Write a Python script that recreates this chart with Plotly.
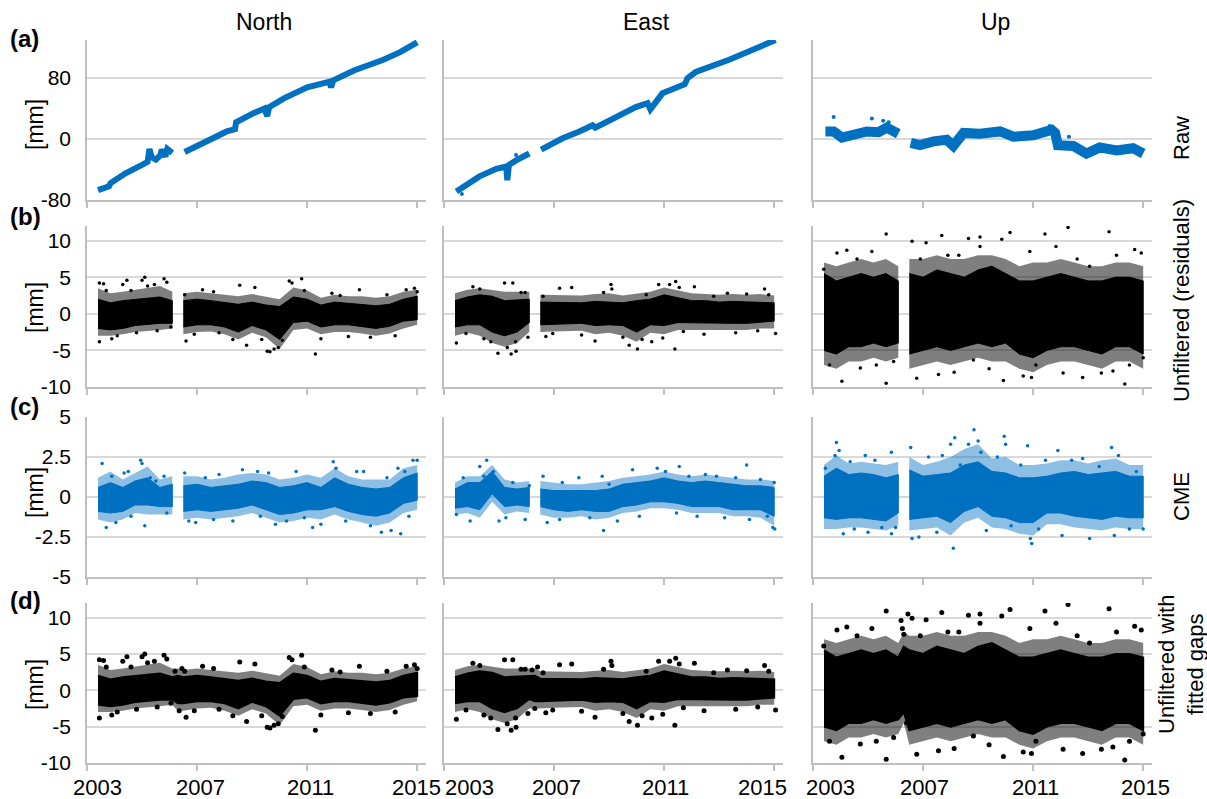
import plotly.graph_objects as go

# ---------------- data ----------------
# knot times of the residual bands (two observation segments, gap 2006.1-2006.5)
T1 = [2003.4, 2003.85, 2004.3, 2004.75, 2005.2, 2005.65, 2006.1]
T2 = [2006.5, 2007.0, 2007.5, 2008.0, 2008.5, 2009.0, 2009.5, 2010.0, 2010.5,
      2011.0, 2011.5, 2012.0, 2012.5, 2013.0, 2013.5, 2014.0, 2014.5, 2015.0]
T_GAP = [2006.3]

# (a) raw series  [mm]
RAW_N_T1 = [2003.4, 2003.8, 2003.85, 2004.4, 2005.0, 2005.2, 2005.27, 2005.35, 2005.5, 2005.65, 2005.72, 2005.85, 2005.92, 2006.1]
RAW_N_V1 = [-67, -62, -58, -45, -34, -30, -13, -24, -27, -22, -14, -23, -13, -18]
RAW_N_T2 = [2006.55, 2007.35, 2008.08, 2008.38, 2008.42, 2009.05, 2009.45, 2009.55, 2009.62, 2010.14, 2011.0, 2011.8, 2011.87, 2011.95, 2012.7, 2013.77, 2014.38, 2015.0]
RAW_N_V2 = [-17, -3, 10, 13, 22, 34, 40, 30, 42, 53, 68, 75, 68, 77, 90, 104, 114, 127]

RAW_E_T1 = [2003.45, 2004.29, 2004.9, 2005.26, 2005.3, 2005.36, 2005.62, 2005.86, 2006.1]
RAW_E_V1 = [-69, -49, -39, -36, -54, -34, -28, -23, -19]
RAW_E_T2 = [2006.53, 2007.31, 2007.92, 2008.4, 2008.5, 2009.13, 2009.97, 2010.4, 2010.5, 2010.94, 2011.6, 2011.75, 2011.85, 2012.15, 2013.36, 2015.05]
RAW_E_V2 = [-14, 1, 10, 18, 15, 27, 42, 47, 39, 60, 71, 72, 80, 88, 104, 130]
RAW_E_OUT = [(2003.65, -72), (2005.62, -21)]

RAW_U_T1 = [2003.45, 2003.75, 2004.05, 2004.47, 2004.96, 2005.38, 2005.68, 2006.1]
RAW_U_V1 = [10, 10, 2, 7, 10, 9, 15, 7]
RAW_U_T2 = [2006.55, 2006.89, 2007.38, 2007.86, 2008.1, 2008.47, 2009.07, 2009.8, 2010.28, 2011.0, 2011.67, 2011.8, 2011.9, 2012.46, 2012.94, 2013.42, 2014.03, 2014.63, 2015.0]
RAW_U_V2 = [-5, -8, -3, -1, -9, 8, 7, 10, 3, 5, 12, 8, -8, -9, -19, -11, -15, -12, -19]
RAW_U_OUT = [(2003.75, 29), (2005.14, 27), (2005.55, 24), (2005.75, 22), (2011.6, 17), (2012.3, 3)]

# (b) unfiltered residuals: dense core band, sparser outer band, scattered points  [mm]
RES_N_LO1 = [-2.0, -2.2, -2.0, -1.6, -1.4, -1.3, -1.3]
RES_N_HI1 = [2.0, 1.5, 1.8, 2.0, 2.2, 2.3, 1.8]
RES_N_LO2 = [-1.8, -1.5, -1.5, -1.8, -2.5, -1.6, -2.2, -3.5, -1.2, -1.0, -1.8, -1.5, -1.5, -1.7, -2.0, -1.7, -1.0, -0.8]
RES_N_HI2 = [1.8, 2.0, 1.8, 1.6, 1.3, 1.6, 1.2, 1.0, 2.3, 2.0, 1.2, 1.6, 1.4, 1.3, 1.1, 1.3, 2.0, 2.4]
RES_N_OLO1 = [-3.0, -3.0, -2.8, -2.5, -2.3, -2.2, -2.0]
RES_N_OHI1 = [3.5, 2.8, 3.0, 3.3, 3.6, 3.8, 3.0]
RES_N_OLO2 = [-2.8, -2.5, -2.4, -2.8, -3.5, -2.6, -3.2, -4.8, -2.2, -2.0, -2.8, -2.5, -2.5, -2.7, -3.0, -2.7, -2.0, -1.5]
RES_N_OHI2 = [2.8, 3.0, 2.8, 2.6, 2.4, 2.7, 2.3, 2.0, 3.6, 3.2, 2.2, 2.6, 2.4, 2.4, 2.2, 2.4, 3.0, 3.3]
RES_N_OUT = [(2003.45, -3.8), (2003.45, 4.2), (2003.6, 4.1), (2003.7, 3.2), (2003.9, -3.4), (2004.1, -3.0),
             (2004.3, 4.0), (2004.45, 4.6), (2004.6, 3.2), (2004.8, -2.6), (2005.0, 4.6), (2005.1, 5.0),
             (2005.2, 3.8), (2005.45, 4.0), (2005.55, -2.3), (2005.8, 4.8), (2005.9, 4.3), (2006.05, -1.8),
             (2006.55, 2.6), (2006.6, -3.7), (2006.9, -2.8), (2007.2, 3.3), (2007.6, 3.0), (2007.8, -2.6),
             (2008.3, -3.5), (2008.55, 3.9), (2008.8, -4.3), (2009.1, 3.6), (2009.35, -3.5), (2009.55, -5.1),
             (2009.65, -5.2), (2009.8, -4.8), (2009.95, -4.6), (2010.1, -3.6), (2010.35, 4.5), (2010.45, 4.2),
             (2010.8, 4.8), (2010.9, 3.2), (2011.3, -5.5), (2011.5, -3.4), (2011.9, 2.8), (2012.2, 2.5),
             (2012.5, -3.1), (2012.9, 3.3), (2013.3, -3.2), (2013.9, 2.6), (2014.2, -3.0), (2014.6, 3.3),
             (2014.9, 3.5), (2015.0, 3.0)]

RES_E_LO1 = [-1.8, -1.5, -1.5, -2.5, -3.0, -2.5, -1.2]
RES_E_HI1 = [1.8, 2.3, 2.6, 2.4, 1.8, 1.9, 2.0]
RES_E_LO2 = [-1.5, -1.5, -1.4, -1.3, -1.6, -1.5, -1.6, -2.5, -1.5, -1.6, -1.2, -1.3, -1.3, -1.3, -1.3, -1.3, -1.2, -1.0]
RES_E_HI2 = [1.6, 1.6, 1.5, 1.5, 1.7, 1.6, 1.5, 1.8, 2.0, 2.6, 2.2, 1.8, 1.8, 1.6, 1.7, 1.6, 1.6, 1.5]
RES_E_OLO1 = [-3.0, -2.6, -3.0, -4.0, -4.5, -4.0, -2.5]
RES_E_OHI1 = [2.8, 3.3, 3.5, 3.3, 3.0, 3.0, 3.0]
RES_E_OLO2 = [-2.5, -2.4, -2.3, -2.3, -2.8, -2.6, -3.0, -3.8, -2.6, -2.8, -2.2, -2.2, -2.2, -2.2, -2.2, -2.2, -2.0, -2.0]
RES_E_OHI2 = [2.6, 2.6, 2.5, 2.5, 2.7, 2.8, 2.5, 2.8, 3.0, 3.6, 3.2, 2.8, 2.7, 2.6, 2.7, 2.6, 2.7, 2.5]
RES_E_OUT = [(2003.45, -4.0), (2003.8, -2.7), (2004.05, 3.7), (2004.3, 3.4), (2004.45, -3.4), (2004.7, -3.8),
             (2004.96, -5.4), (2005.2, 4.2), (2005.3, -4.6), (2005.44, -5.5), (2005.62, -5.1), (2005.6, -3.8),
             (2005.5, 4.2), (2005.8, 2.9), (2005.95, 2.9), (2006.05, -3.2), (2006.6, 2.4), (2006.7, -3.1),
             (2006.95, -2.7), (2007.2, 3.5), (2007.64, 3.6), (2008.0, -2.9), (2008.49, -3.7), (2008.8, 2.9),
             (2009.07, 4.0), (2009.1, 3.4), (2009.5, -3.2), (2009.73, -4.3), (2010.03, -4.8), (2010.2, -3.5),
             (2010.35, 2.6), (2010.55, -3.8), (2010.8, 4.0), (2010.95, -3.3), (2011.2, 4.0), (2011.42, 4.4),
             (2011.39, -4.8), (2011.55, 3.6), (2011.7, -2.4), (2012.1, 3.7), (2012.45, -2.8), (2012.8, 2.4),
             (2013.3, 2.8), (2013.6, -2.6), (2014.0, 2.7), (2014.4, -2.3), (2014.65, 3.4), (2014.8, 2.6),
             (2015.05, -2.7)]

RES_U_LO1 = [-5.0, -5.5, -4.5, -4.5, -4.0, -4.5, -4.0]
RES_U_HI1 = [5.5, 4.5, 5.0, 5.5, 5.0, 5.5, 4.5]
RES_U_LO2 = [-5.5, -5.0, -4.5, -5.0, -4.5, -4.0, -4.5, -4.0, -5.5, -6.0, -5.0, -4.5, -4.5, -5.0, -5.5, -4.5, -4.5, -5.5]
RES_U_HI2 = [5.5, 5.0, 6.0, 5.5, 5.0, 6.0, 6.5, 5.5, 4.5, 4.5, 5.0, 5.5, 5.0, 4.5, 4.5, 5.0, 5.0, 4.5]
RES_U_OLO1 = [-7.0, -7.5, -6.5, -6.5, -6.0, -6.5, -6.0]
RES_U_OHI1 = [7.0, 6.5, 7.0, 7.5, 7.0, 7.5, 6.5]
RES_U_OLO2 = [-7.5, -7.0, -6.5, -7.0, -6.5, -6.0, -6.5, -6.5, -7.5, -8.0, -7.0, -6.5, -6.5, -7.0, -7.5, -6.5, -6.5, -7.5]
RES_U_OHI2 = [7.5, 7.5, 8.0, 7.5, 7.5, 8.0, 8.0, 7.5, 6.5, 7.0, 7.0, 7.5, 7.0, 6.5, 6.5, 7.0, 7.0, 6.5]
RES_U_OUT = [(2003.39, 6.1), (2003.87, 8.3), (2004.23, 8.7), (2005.14, 8.5), (2005.66, 10.9), (2004.05, -9.2),
             (2004.72, -7.4), (2005.66, -9.5), (2005.93, -6.5), (2006.6, 9.9), (2007.11, 9.7), (2007.68, 10.7),
             (2006.77, -8.8), (2007.56, -8.3), (2008.13, -8.0), (2008.65, 10.3), (2009.07, 10.5), (2009.07, 9.2),
             (2008.83, -6.3), (2009.92, -9.1), (2009.86, 10.2), (2010.16, 11.1), (2010.88, 8.5), (2010.64, -8.5),
             (2010.94, -8.7), (2011.43, 10.9), (2011.83, 9.2), (2012.09, -8.1), (2012.27, 11.8), (2012.8, -8.7),
             (2013.48, -8.1), (2013.76, 11.2), (2014.33, -9.6), (2014.69, 8.8), (2014.93, 8.3), (2015.0, -6.0),
             (2014.03, 8.0), (2013.05, 6.5), (2004.6, 7.5), (2003.6, -7.0), (2006.9, 7.5), (2008.3, 8.0),
             (2009.4, -7.5), (2011.1, -7.0), (2012.6, 7.5), (2013.9, -7.8), (2014.5, -7.0), (2007.9, 8.0),
             (2005.3, -7.0)]

# (d) fitted values inside the gap
GAP_N_LO, GAP_N_HI, GAP_N_OLO, GAP_N_OHI = [-1.8], [2.0], [-2.8], [3.0]
GAP_E_LO, GAP_E_HI, GAP_E_OLO, GAP_E_OHI = [-1.5], [2.0], [-2.5], [3.0]
GAP_U_LO, GAP_U_HI, GAP_U_OLO, GAP_U_OHI = [-3.0], [6.0], [-4.5], [8.0]
GAP_N_OUT = [(2006.2, 2.6), (2006.35, -2.8), (2006.45, 3.0)]
GAP_E_OUT = [(2006.2, 2.8), (2006.3, -2.5), (2006.4, 3.2)]
GAP_U_OUT = [(2006.2, 9.6), (2006.25, 8.5), (2006.3, 7.7), (2006.4, -4.5), (2006.45, 10.5)]

# (c) common mode error  [mm]
CME_N_LO1 = [-0.9, -1.0, -0.9, -0.5, -0.5, -0.6, -0.6]
CME_N_HI1 = [0.6, 0.9, 0.6, 1.0, 1.2, 0.6, 0.8]
CME_N_LO2 = [-0.9, -0.8, -0.9, -0.8, -0.7, -0.5, -0.8, -1.1, -1.0, -0.8, -0.8, -0.6, -0.9, -1.1, -1.2, -1.0, -0.4, -0.2]
CME_N_HI2 = [0.7, 0.8, 0.6, 0.7, 0.8, 1.0, 0.9, 0.6, 0.7, 0.9, 0.6, 1.2, 0.8, 0.6, 0.5, 0.6, 1.2, 1.5]
CME_N_OLO1 = [-1.4, -1.6, -1.4, -1.0, -1.1, -1.1, -1.1]
CME_N_OHI1 = [1.2, 1.6, 1.1, 1.5, 1.9, 1.1, 1.3]
CME_N_OLO2 = [-1.4, -1.3, -1.4, -1.3, -1.2, -1.0, -1.3, -1.6, -1.5, -1.3, -1.4, -1.1, -1.4, -1.6, -1.8, -1.6, -1.0, -0.8]
CME_N_OHI2 = [1.3, 1.3, 1.1, 1.2, 1.4, 1.5, 1.4, 1.1, 1.2, 1.4, 1.2, 1.8, 1.3, 1.1, 1.1, 1.1, 1.8, 2.0]
CME_N_OUT = [(2003.55, 2.1), (2003.7, -1.9), (2003.9, 1.3), (2004.05, -1.6), (2004.35, 1.5), (2004.5, 1.6),
             (2004.6, -1.2), (2004.95, 2.3), (2005.0, 2.1), (2005.1, -1.8), (2005.3, 1.2), (2005.5, 1.0),
             (2005.8, 1.3), (2005.9, -1.0), (2006.55, 1.5), (2006.7, -1.5), (2006.95, -1.6), (2007.3, 1.2),
             (2007.8, 1.4), (2007.6, -1.4), (2008.3, -1.5), (2008.65, 1.7), (2009.2, 1.6), (2009.3, -1.2),
             (2009.6, 1.5), (2009.85, -1.7), (2010.25, -1.5), (2010.6, 1.6), (2010.9, -1.3), (2011.2, -1.9),
             (2011.5, -1.7), (2011.95, 2.2), (2012.05, 1.8), (2012.4, -1.5), (2012.8, 1.6), (2013.05, 1.6),
             (2013.3, -1.8), (2013.7, -2.2), (2013.9, 1.2), (2014.05, -2.1), (2014.3, 1.8), (2014.4, -2.3),
             (2014.55, 1.6), (2014.7, -1.2), (2014.85, 2.3), (2015.0, 2.3)]

CME_E_LO1 = [-0.7, -0.6, -0.8, 0.2, -0.6, -0.5, -0.6]
CME_E_HI1 = [0.5, 0.9, 0.9, 1.6, 0.6, 0.5, 0.6]
CME_E_LO2 = [-0.6, -0.8, -0.9, -0.8, -0.9, -0.9, -0.6, -0.5, -0.3, -0.3, -0.4, -0.6, -0.6, -0.6, -0.8, -0.8, -0.8, -1.2]
CME_E_HI2 = [0.5, 0.4, 0.4, 0.4, 0.4, 0.5, 0.8, 0.9, 1.0, 1.2, 1.0, 0.9, 1.0, 0.9, 0.8, 0.7, 0.7, 0.6]
CME_E_OLO1 = [-1.1, -1.0, -1.3, -0.3, -1.1, -0.9, -1.0]
CME_E_OHI1 = [0.9, 1.3, 1.3, 2.0, 1.1, 0.9, 1.0]
CME_E_OLO2 = [-1.1, -1.3, -1.3, -1.2, -1.4, -1.3, -1.0, -0.9, -0.7, -0.7, -0.8, -1.0, -1.0, -1.0, -1.2, -1.2, -1.3, -1.8]
CME_E_OHI2 = [1.0, 0.9, 0.8, 0.8, 0.9, 1.0, 1.2, 1.3, 1.4, 1.6, 1.4, 1.3, 1.4, 1.3, 1.2, 1.1, 1.1, 1.0]
CME_E_OUT = [(2003.45, -1.1), (2003.7, 1.2), (2003.95, -1.5), (2004.3, 1.9), (2004.55, 2.3), (2004.45, 1.3),
             (2004.8, 1.6), (2005.0, -1.5), (2005.25, -1.3), (2005.5, 0.9), (2005.95, -1.4), (2006.1, 0.7),
             (2006.6, 1.3), (2006.75, -1.6), (2007.3, 0.9), (2007.2, -1.4), (2007.9, 1.2), (2008.3, -1.3),
             (2008.8, -2.1), (2008.75, 1.3), (2009.0, 0.8), (2009.3, -1.5), (2009.85, 1.7), (2010.1, -1.2),
             (2010.75, 1.8), (2011.05, 1.6), (2011.45, -1.0), (2011.55, 1.9), (2011.9, 1.3), (2012.2, -1.2),
             (2012.5, 1.4), (2012.9, 1.3), (2013.2, -1.3), (2013.6, 1.2), (2014.0, 2.0), (2014.1, -1.4),
             (2014.5, 1.1), (2014.75, -1.2), (2014.95, -1.9), (2015.02, -2.0), (2015.0, 0.9)]

CME_U_LO1 = [-1.3, -1.4, -1.3, -1.3, -1.4, -1.5, -1.0]
CME_U_HI1 = [1.3, 1.8, 1.4, 1.5, 1.4, 1.2, 1.4]
CME_U_LO2 = [-1.4, -1.3, -1.2, -1.6, -0.9, -0.6, -1.2, -1.3, -1.6, -1.6, -1.0, -1.0, -1.2, -1.3, -1.4, -1.2, -1.3, -1.3]
CME_U_HI2 = [1.7, 1.3, 1.4, 1.5, 2.0, 2.2, 1.6, 1.5, 1.2, 1.2, 1.3, 1.5, 1.6, 1.4, 1.5, 1.6, 1.3, 1.3]
CME_U_OLO1 = [-2.0, -2.0, -1.9, -1.9, -2.0, -2.1, -1.8]
CME_U_OHI1 = [2.0, 2.6, 2.1, 2.2, 2.1, 2.0, 2.2]
CME_U_OLO2 = [-2.1, -2.0, -1.9, -2.4, -1.6, -1.3, -1.9, -2.0, -2.3, -2.4, -1.7, -1.7, -1.9, -2.0, -2.1, -1.9, -2.0, -2.0]
CME_U_OHI2 = [2.5, 2.0, 2.2, 2.5, 3.0, 3.3, 2.4, 2.5, 2.0, 2.0, 2.1, 2.3, 2.3, 2.1, 2.3, 2.4, 2.0, 2.0]
CME_U_OUT = [(2003.45, 1.8), (2003.8, 2.6), (2003.85, 3.4), (2003.95, 2.9), (2004.1, -2.3), (2004.35, 2.2),
             (2004.5, -2.0), (2004.9, 2.6), (2005.0, -2.2), (2005.25, 2.3), (2005.5, -1.9), (2005.85, 2.8),
             (2005.85, -2.3), (2006.0, -1.9), (2006.55, 3.1), (2006.6, -2.6), (2006.85, -2.5), (2007.2, 2.5),
             (2007.5, -2.2), (2007.7, 2.6), (2008.0, 3.3), (2008.1, -3.2), (2008.15, 3.7), (2008.35, 2.0),
             (2008.65, 3.3), (2008.85, 4.2), (2009.0, 3.5), (2009.1, 2.8), (2009.3, -2.1), (2009.7, 2.5),
             (2009.95, 3.8), (2010.0, 3.3), (2010.2, -1.8), (2010.55, 2.0), (2010.8, 3.2), (2010.9, -2.6),
             (2010.95, -2.9), (2011.2, -2.0), (2011.45, 2.3), (2011.9, 2.9), (2012.05, -2.4), (2012.4, 2.3),
             (2012.8, 2.4), (2013.05, -2.6), (2013.4, 1.9), (2013.85, 3.1), (2013.95, -2.4), (2014.1, 2.6),
             (2014.5, -2.0), (2014.75, 1.6), (2015.0, -2.0)]

COL_TITLES = ["North", "East", "Up"]
ROW_LETTERS = ["(a)", "(b)", "(c)", "(d)"]
ROW_LABELS = ["Raw", "Unfiltered (residuals)", "CME", "Unfiltered with<br>fitted gaps"]
X_TICKS = [2003, 2007, 2011, 2015]
X_TICKTEXT = ["2003", "2007", "2011", "2015"]
Y_TICKS = [[-80, 0, 80], [-10, -5, 0, 5, 10], [-5, -2.5, 0, 2.5, 5], [-10, -5, 0, 5, 10]]
Y_TICKTEXT = [["-80", "0", "80"], ["-10", "-5", "0", "5", "10"], ["-5", "-2.5", "0", "2.5", "5"],
              ["-10", "-5", "0", "5", "10"]]
Y_RANGES = [[-80, 130], [-10, 12], [-5, 5], [-10, 12]]

# ---------------- styling / layout ----------------
W, H = 1207, 799
BLUE = "#0070C0"
BLUE_SOFT = "rgba(0,112,192,0.45)"
BLACK = "#000000"
BLACK_SOFT = "rgba(0,0,0,0.5)"
GRID = "#d9d9d9"
AXIS = "#bfbfbf"
FONT = "Liberation Sans, Arial, sans-serif"

COLS_PX = [(87, 426), (444, 783), (813, 1152)]
ROWS_PX = [(40, 200), (226, 387), (417, 577), (603, 763)]
# centres of the year labels under each column (px), as placed in the reference
XLAB_PX = [[97, 200, 310, 416], [469, 556, 665, 762], [830, 924, 1035, 1145]]

fig = go.Figure()


def ax_names(r, c):
    k = r * 3 + c + 1
    s = "" if k == 1 else str(k)
    return "x" + s, "y" + s, s


def add_band(r, c, t, lo, hi, color, lw):
    xa, ya, _ = ax_names(r, c)
    fig.add_trace(go.Scatter(x=list(t) + list(t)[::-1], y=list(hi) + list(lo)[::-1],
                             mode="lines", fill="toself", fillcolor=color,
                             line=dict(color=color, width=lw), xaxis=xa, yaxis=ya,
                             hoverinfo="skip", showlegend=False))


def add_points(r, c, pts, color, size):
    xa, ya, _ = ax_names(r, c)
    fig.add_trace(go.Scatter(x=[p[0] for p in pts], y=[p[1] for p in pts], mode="markers",
                             marker=dict(color=color, size=size, line=dict(width=0)),
                             xaxis=xa, yaxis=ya, showlegend=False))


def add_line(r, c, t, v, color, lw):
    xa, ya, _ = ax_names(r, c)
    fig.add_trace(go.Scatter(x=t, y=v, mode="lines", line=dict(color=color, width=lw),
                             xaxis=xa, yaxis=ya, showlegend=False))


# row (a): raw
for c, (t1, v1, t2, v2, lw) in enumerate([
        (RAW_N_T1, RAW_N_V1, RAW_N_T2, RAW_N_V2, 6),
        (RAW_E_T1, RAW_E_V1, RAW_E_T2, RAW_E_V2, 6),
        (RAW_U_T1, RAW_U_V1, RAW_U_T2, RAW_U_V2, 10)]):
    add_line(0, c, t1, v1, BLUE, lw)
    add_line(0, c, t2, v2, BLUE, lw)
add_points(0, 1, RAW_E_OUT, BLUE, 4)
add_points(0, 2, RAW_U_OUT, BLUE, 4)

res = [(RES_N_LO1, RES_N_HI1, RES_N_LO2, RES_N_HI2, RES_N_OLO1, RES_N_OHI1, RES_N_OLO2, RES_N_OHI2,
        RES_N_OUT, GAP_N_LO, GAP_N_HI, GAP_N_OLO, GAP_N_OHI, GAP_N_OUT),
       (RES_E_LO1, RES_E_HI1, RES_E_LO2, RES_E_HI2, RES_E_OLO1, RES_E_OHI1, RES_E_OLO2, RES_E_OHI2,
        RES_E_OUT, GAP_E_LO, GAP_E_HI, GAP_E_OLO, GAP_E_OHI, GAP_E_OUT),
       (RES_U_LO1, RES_U_HI1, RES_U_LO2, RES_U_HI2, RES_U_OLO1, RES_U_OHI1, RES_U_OLO2, RES_U_OHI2,
        RES_U_OUT, GAP_U_LO, GAP_U_HI, GAP_U_OLO, GAP_U_OHI, GAP_U_OUT)]
cme = [(CME_N_LO1, CME_N_HI1, CME_N_LO2, CME_N_HI2, CME_N_OLO1, CME_N_OHI1, CME_N_OLO2, CME_N_OHI2, CME_N_OUT),
       (CME_E_LO1, CME_E_HI1, CME_E_LO2, CME_E_HI2, CME_E_OLO1, CME_E_OHI1, CME_E_OLO2, CME_E_OHI2, CME_E_OUT),
       (CME_U_LO1, CME_U_HI1, CME_U_LO2, CME_U_HI2, CME_U_OLO1, CME_U_OHI1, CME_U_OLO2, CME_U_OHI2, CME_U_OUT)]

for c in range(3):
    lo1, hi1, lo2, hi2, olo1, ohi1, olo2, ohi2, out, glo, ghi, golo, gohi, gout = res[c]
    # (b) unfiltered residuals
    add_band(1, c, T1, olo1, ohi1, BLACK_SOFT, 0)
    add_band(1, c, T2, olo2, ohi2, BLACK_SOFT, 0)
    add_band(1, c, T1, lo1, hi1, BLACK, 1)
    add_band(1, c, T2, lo2, hi2, BLACK, 1)
    add_points(1, c, out, BLACK, 3.5)
    # (c) CME
    clo1, chi1, clo2, chi2, colo1, cohi1, colo2, cohi2, cout = cme[c]
    add_band(2, c, T1, colo1, cohi1, BLUE_SOFT, 0)
    add_band(2, c, T2, colo2, cohi2, BLUE_SOFT, 0)
    add_band(2, c, T1, clo1, chi1, BLUE, 1)
    add_band(2, c, T2, clo2, chi2, BLUE, 1)
    add_points(2, c, cout, BLUE, 3.5)
    # (d) unfiltered with fitted gaps
    add_band(3, c, T1 + T_GAP + T2, olo1 + golo + olo2, ohi1 + gohi + ohi2, BLACK_SOFT, 0)
    add_band(3, c, T1 + T_GAP + T2, lo1 + glo + lo2, hi1 + ghi + hi2, BLACK, 2)
    add_points(3, c, out + gout, BLACK, 5)

layout = dict(width=W, height=H, margin=dict(l=0, r=0, t=0, b=0, pad=0, autoexpand=False),
              paper_bgcolor="white", plot_bgcolor="white", showlegend=False,
              font=dict(family=FONT, color="black"))

for r in range(4):
    for c in range(3):
        xa, ya, s = ax_names(r, c)
        x0, x1 = COLS_PX[c]
        y0, y1 = ROWS_PX[r]
        layout["xaxis" + s] = dict(domain=[x0 / W, x1 / W], anchor=ya, range=[2003, 2015.32],
                                   tickvals=X_TICKS, ticktext=X_TICKTEXT, showticklabels=False,
                                   ticks="outside", ticklen=6, tickcolor=AXIS, tickwidth=1.5,
                                   showline=True, linecolor=AXIS, linewidth=1.5, showgrid=False,
                                   zeroline=False, automargin=False)
        layout["yaxis" + s] = dict(domain=[1 - y1 / H, 1 - y0 / H], anchor=xa, range=Y_RANGES[r],
                                   tickvals=Y_TICKS[r], ticktext=Y_TICKTEXT[r],
                                   showticklabels=(c == 0), ticks="", showgrid=True,
                                   gridcolor=GRID, gridwidth=1.5, showline=True, linecolor=AXIS,
                                   linewidth=1.5, zeroline=False, automargin=False,
                                   tickfont=dict(size=21, family=FONT, color="black"),
                                   ticklabelstandoff=10)


def note(text, xpx, ypx, size, angle=0, xanchor="center"):
    return dict(text=text, x=xpx / W, y=1 - ypx / H, xref="paper", yref="paper",
                xanchor=xanchor, yanchor="middle", textangle=angle, showarrow=False,
                font=dict(size=size, family=FONT, color="black"))


ann = []
for txt, xc in zip(COL_TITLES, [264, 647, 995]):
    ann.append(note(txt, xc, 22, 23))
for txt, yc in zip(ROW_LETTERS, [39, 216, 406, 600]):
    ann.append(note("<b>" + txt + "</b>", 8, yc, 24, xanchor="left"))
for yc in [125, 308, 493, 685]:
    ann.append(note("[mm]", 35, yc, 23, angle=-90))
for txt, yc in zip(ROW_LABELS, [138, 301, 497, 665]):
    ann.append(note(txt, 1181, yc, 22, angle=-90))
# year labels under the bottom row
for c in range(3):
    for txt, xc in zip(X_TICKTEXT, XLAB_PX[c]):
        ann.append(note(txt, xc, 787, 22))
layout["annotations"] = ann

fig.update_layout(**layout)
fig.write_html("out.html", config={"displayModeBar": False},
               post_script="document.body.style.margin='0px';")
